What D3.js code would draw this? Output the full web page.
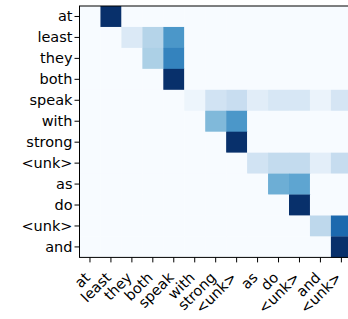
<!DOCTYPE html>
<html>
<head>
<meta charset="utf-8">
<script src="https://cdn.jsdelivr.net/npm/d3@7"></script>
<style>
  body { margin: 0; background: #fff; }
  svg text { font-family: "DejaVu Sans", sans-serif; }
</style>
</head>
<body>
<div class="chart-container"></div>
<script>
// source tokens (rows) and target tokens (columns)
const rowLabels = ['at', 'least', 'they', 'both', 'speak', 'with', 'strong', '<unk>', 'as', 'do', '<unk>', 'and'];
const colLabels = ['at', 'least', 'they', 'both', 'speak', 'with', 'strong', '<unk>', 'as', 'do', '<unk>', 'and', '<unk>'];

// attention weights, one array per row
const rowAt     = [0, 1.0, 0, 0, 0, 0, 0, 0, 0, 0, 0, 0, 0];
const rowLeast  = [0, 0, 0.14, 0.30, 0.60, 0, 0, 0, 0, 0, 0, 0, 0];
const rowThey   = [0, 0, 0, 0.33, 0.68, 0, 0, 0, 0, 0, 0, 0, 0];
const rowBoth   = [0, 0, 0, 0, 1.0, 0, 0, 0, 0, 0, 0, 0, 0];
const rowSpeak  = [0, 0, 0, 0, 0, 0.05, 0.19, 0.23, 0.11, 0.16, 0.16, 0.06, 0.17];
const rowWith   = [0, 0, 0, 0, 0, 0, 0.45, 0.60, 0, 0, 0, 0, 0];
const rowStrong = [0, 0, 0, 0, 0, 0, 0, 1.0, 0, 0, 0, 0, 0];
const rowUnk1   = [0, 0, 0, 0, 0, 0, 0, 0, 0.19, 0.25, 0.25, 0.10, 0.24];
const rowAs     = [0, 0, 0, 0, 0, 0, 0, 0, 0, 0.50, 0.54, 0, 0];
const rowDo     = [0, 0, 0, 0, 0, 0, 0, 0, 0, 0, 1.0, 0, 0];
const rowUnk2   = [0, 0, 0, 0, 0, 0, 0, 0, 0, 0, 0, 0.27, 0.78];
const rowAnd    = [0, 0, 0, 0, 0, 0, 0, 0, 0, 0, 0, 0, 1.0];

const weights = [rowAt, rowLeast, rowThey, rowBoth, rowSpeak, rowWith,
    rowStrong, rowUnk1, rowAs, rowDo, rowUnk2, rowAnd];

const cells = [];
weights.forEach((row, i) => row.forEach((v, j) => cells.push({ r: i, c: j, v: v })));

const W = 348, H = 319;
const margin = { top: 6, left: 79.5 };
const cell = 20.95;
const width = cell * colLabels.length;
const height = cell * rowLabels.length;

const svg = d3.select('.chart-container')
    .append('svg')
    .attr('width', W)
    .attr('height', H)
    .append('g')
    .attr('transform', `translate(${margin.left}, ${margin.top})`);

// scales (band indices so duplicate labels stay separate)
const xScale = d3.scaleBand().domain(d3.range(colLabels.length)).range([0, width]);
const yScale = d3.scaleBand().domain(d3.range(rowLabels.length)).range([0, height]);
const color = d3.scaleSequential(d3.interpolateBlues).domain([0, 1]);

// cells
svg.append('g')
    .selectAll('rect')
    .data(cells)
    .enter()
    .append('rect')
        .attr('x', d => xScale(d.c))
        .attr('y', d => yScale(d.r))
        .attr('width', xScale.bandwidth() + 0.3)
        .attr('height', yScale.bandwidth() + 0.3)
        .attr('fill', d => color(d.v));

// axes
const yAxis = d3.axisLeft(yScale)
    .tickFormat(i => rowLabels[i])
    .tickSizeInner(5)
    .tickSizeOuter(0)
    .tickPadding(2);

const yAxisDraw = svg.append('g').call(yAxis);
yAxisDraw.selectAll('text')
    .attr('font-size', '14.5px')
    .attr('font-family', '"DejaVu Sans", sans-serif')
    .attr('fill', '#000');

const xAxis = d3.axisBottom(xScale)
    .tickFormat(i => colLabels[i])
    .tickSizeInner(5)
    .tickSizeOuter(0);

const xAxisDraw = svg.append('g')
    .attr('transform', `translate(0, ${height})`)
    .call(xAxis);

// rotated labels, right end at the tick
xAxisDraw.selectAll('text')
    .attr('font-size', '14.5px')
    .attr('font-family', '"DejaVu Sans", sans-serif')
    .attr('fill', '#000')
    .attr('text-anchor', 'end')
    .attr('dy', 0)
    .attr('y', 0)
    .attr('transform', 'translate(1, 21) rotate(-45)');

svg.selectAll('.domain').remove();
svg.selectAll('.tick line').attr('stroke', '#000').attr('stroke-width', 1);

// frame around the image
svg.append('rect')
    .attr('x', 0)
    .attr('y', 0)
    .attr('width', width)
    .attr('height', height)
    .attr('fill', 'none')
    .attr('stroke', '#000')
    .attr('stroke-width', 1);
</script>
</body>
</html>
